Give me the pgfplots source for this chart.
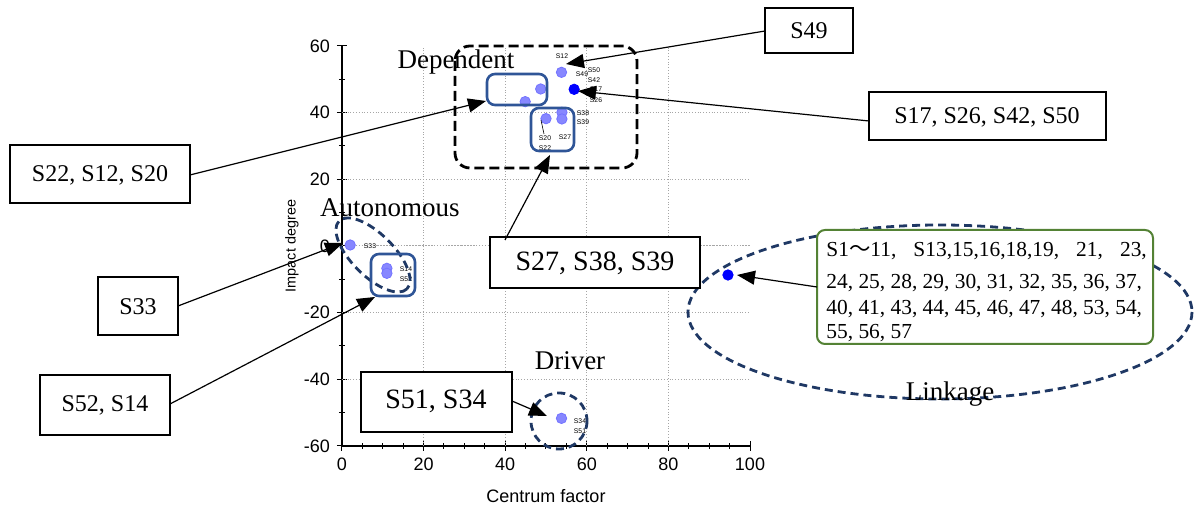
\documentclass[border=0pt]{standalone}
\usepackage{fontspec}
\setmainfont{Liberation Serif}
\setsansfont{Liberation Sans}
\newfontfamily\cjk{Noto Sans CJK JP}
\usepackage{pgfplots}
\pgfplotsset{compat=1.18}
\usetikzlibrary{arrows.meta}

\definecolor{navy}{RGB}{31,56,100}
\definecolor{boxblue}{RGB}{47,85,151}
\definecolor{grn}{RGB}{84,130,53}
\definecolor{ptblue}{RGB}{135,135,255}

\tikzset{
  lbl/.style={font=\sffamily\fontsize{3.4}{4}\selectfont, inner sep=0pt},
  cbox/.style={draw=black, line width=0.6pt, fill=white},
  arr/.style={-{Triangle[length=9pt,width=7pt]}, line width=0.6pt},
  big/.style={font=\fontsize{13.5}{15}\selectfont},
}

\begin{document}
\begin{tikzpicture}
\useasboundingbox (-171pt,-36pt) rectangle (426.5pt,223pt);
\begin{axis}[
  at={(0,0)}, anchor=south west,
  width=204pt, height=200pt, scale only axis,
  xmin=0, xmax=100, ymin=-60, ymax=60,
  axis x line*=bottom, axis y line*=left,
  axis line style={-, black, line width=0.6pt},
  xtick={0,20,...,100}, ytick={-60,-40,...,60},
  minor x tick num=3, minor y tick num=1,
  tick align=center,
  major tick length=5pt, minor tick length=3pt,
  tick style={black, line width=0.5pt},
  extra x ticks={20,40,60,80}, extra x tick labels={},
  extra y ticks={-40,-20,0,20,40}, extra y tick labels={},
  extra tick style={grid=major, major tick length=0pt},
  major grid style={densely dotted, gray!70, line width=0.5pt},
  ticklabel style={font=\sffamily\fontsize{9}{10}\selectfont},
  /pgf/number format/assume math mode=true,
  xlabel={Centrum factor}, ylabel={Impact degree},
  xlabel style={font=\sffamily\fontsize{9}{10}\selectfont, at={(axis description cs:0.5,-0.125)}, anchor=center},
  ylabel style={font=\sffamily\fontsize{7.2}{8}\selectfont, at={(axis description cs:-0.1225,0.5)}, anchor=center},
  clip=false,
]
% hatched points
\addplot[only marks, mark=*, mark size=2.6pt, mark options={draw=blue!55, fill=ptblue}]
coordinates {
(53.8,52.1) (48.7,47.1) (44.9,43.3) (50.0,38.2) (53.9,40.1) (53.9,38.1)
(2.0,0.3) (11.0,-6.7) (11.0,-8.2) (53.8,-51.7)
};
% solid points
\addplot[only marks, mark=*, mark size=2.6pt, mark options={draw=blue, fill=blue}]
coordinates {(56.9,47.0) (94.6,-8.7)};
\end{axis}

\begin{scope}[x=0.5pt, y=-0.5pt, shift={(-171pt,223pt)}]
% small point labels
\node[lbl] at (562,56) {S12};
\node[lbl] at (594,70) {S50};
\node[lbl] at (582,74) {S49};
\node[lbl] at (594,80) {S42};
\node[lbl] at (596,89) {S17};
\node[lbl] at (596,100) {S26};
\node[lbl] at (583,113) {S38};
\node[lbl] at (583,122) {S39};
\node[lbl] at (545,138) {S20};
\node[lbl] at (545,148) {S22};
\node[lbl] at (565,137) {S27};
\draw[line width=0.3pt] (541,120) -- (544,134);
\node[lbl] at (370,246) {S33};
\draw[densely dotted, gray!70, line width=0.5pt] (377,246) -- (750,246);
\node[lbl] at (406,269) {S14};
\node[lbl] at (406,279) {S52};
\node[lbl] at (580,421) {S34};
\node[lbl] at (580,431) {S51};

% Dependent
\draw[black, line width=1.4pt, dash pattern=on 5pt off 2.5pt, rounded corners=7.5pt] (455,46) rectangle (637,168);
\node[big] at (456,62) {Dependent};
\draw[boxblue, line width=1.3pt, rounded corners=4pt] (487,74) rectangle (547,105);
\draw[boxblue, line width=1.3pt, rounded corners=4pt] (531,108) rectangle (574,151);

% Autonomous
\draw[navy, line width=1.4pt, dash pattern=on 4pt off 2.5pt, rotate around={-45:(373,255)}] (373,255) ellipse (48 and 21);
\node[big] at (390,208) {Autonomous};
\draw[boxblue, line width=1.3pt, rounded corners=4pt] (371,254) rectangle (415,296);

% Driver
\draw[navy, line width=1.4pt, dash pattern=on 4pt off 2.5pt] (559,421) ellipse (28 and 28);
\node[big] at (570,361) {Driver};

% Linkage
\draw[navy, line width=1.4pt, dash pattern=on 4pt off 2.5pt] (940,312) ellipse (252 and 87);
\node[big] at (950,394) {Linkage};
\draw[grn, line width=1pt, fill=white, rounded corners=4pt] (817,230) rectangle (1153,344);
\begin{scope}[font=\fontsize{10.7}{12}\selectfont]
\node[anchor=west, inner sep=0pt] at (826,251) {S1{\cjk ～}11,\hspace{0.8em}S13,15,16,18,19,\hspace{0.8em}21,\hspace{0.8em}23,};
\node[anchor=west, inner sep=0pt] at (826,283) {24, 25, 28, 29, 30, 31, 32, 35, 36, 37,};
\node[anchor=west, inner sep=0pt] at (826,309) {40, 41, 43, 44, 45, 46, 47, 48, 53, 54,};
\node[anchor=west, inner sep=0pt] at (826,333) {55, 56, 57};
\end{scope}
\draw[arr] (817,287) -- (737,275);

% callout boxes
\draw[cbox] (765,8) rectangle (853,53);
\node[font=\fontsize{12}{13}\selectfont] at (809,31) {S49};
\draw[arr] (765,31) -- (566,64);

\draw[cbox] (869,92) rectangle (1106,140);
\node[font=\fontsize{12}{13}\selectfont] at (987,117) {S17, S26, S42, S50};
\draw[arr] (869,121) -- (578,91);

\draw[cbox] (10,145) rectangle (190,203);
\node[font=\fontsize{12}{13}\selectfont] at (100,175) {S22, S12, S20};
\draw[arr] (190,175) -- (486,101);

\draw[cbox] (490,237) rectangle (700,288);
\node[font=\fontsize{14}{15}\selectfont] at (595,263) {S27, S38, S39};
\draw[arr] (505,240) -- (550,155);

\draw[cbox] (98,277) rectangle (178,335);
\node[font=\fontsize{12}{13}\selectfont] at (138,307) {S33};
\draw[arr] (178,306) -- (343,243);

\draw[cbox] (40,375) rectangle (170,435);
\node[font=\fontsize{12}{13}\selectfont] at (105,405) {S52, S14};
\draw[arr] (170,404) -- (375,297);

\draw[cbox] (361,372) rectangle (512,432);
\node[font=\fontsize{14}{15}\selectfont] at (436,401) {S51, S34};
\draw[arr] (512,401) -- (547,416);
\end{scope}
\end{tikzpicture}
\end{document}
